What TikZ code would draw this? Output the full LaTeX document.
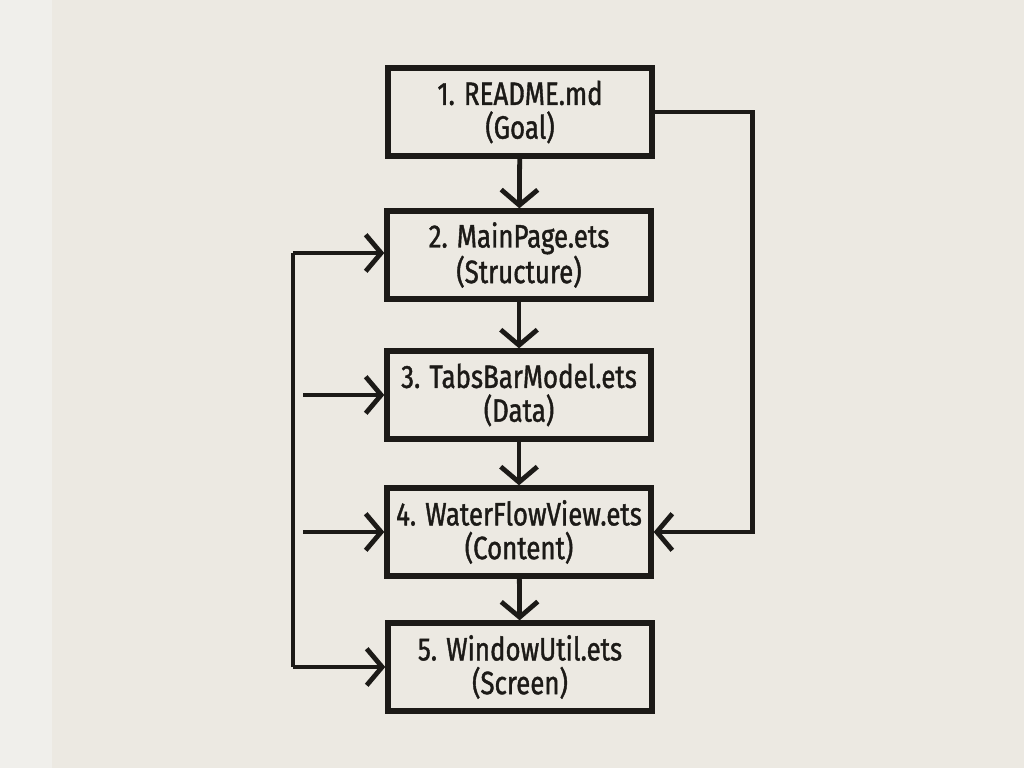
\documentclass[tikz,border=0pt]{standalone}
\usepackage{fontspec}
\setmainfont[FakeStretch=0.8, FakeBold=1.2]{Fira Sans}
\usepackage{xcolor}
\usetikzlibrary{positioning, arrows.meta}
\definecolor{paperBg}{HTML}{ECE9E2}
\definecolor{paperEdge}{HTML}{F0EFEB}
\definecolor{inkBlack}{HTML}{1C1A17}

\tikzset{
  filebox/.style={draw=inkBlack, line width=3.8pt, minimum width=6.6cm, minimum height=2.2cm,
    align=center, inner sep=1pt, font=\fontsize{23}{24}\selectfont, text=inkBlack},
  flowarrow/.style={draw=inkBlack, line width=3.4pt, -{Straight Barb[length=11pt, width=26pt, line width=3.4pt]}},
  loopline/.style={draw=inkBlack, line width=3.2pt}
}

\begin{document}
\begin{tikzpicture}[x=0.025cm, y=-0.025cm]
    % Paper background
    \fill[paperBg] (0, 0) rectangle (1024, 768);
    \fill[paperEdge] (0, 0) rectangle (52, 768);
    \useasboundingbox (0, 0) rectangle (1024, 768);
    % File boxes in reading order
    \node[filebox] (readme) at (520, 112) {1. README.md\\(Goal)};
    \node[filebox] (mainpage) at (519, 255) {2. MainPage.ets\\(Structure)};
    \node[filebox] (tabsbar) at (519, 395) {3. TabsBarModel.ets\\(Data)};
    \node[filebox] (waterflow) at (519, 532) {4. WaterFlowView.ets\\(Content)};
    \node[filebox] (windowutil) at (520, 667) {5. WindowUtil.ets\\(Screen)};
    % Downward chain
    \draw[flowarrow] (readme) -- (mainpage);
    \draw[flowarrow] (mainpage) -- (tabsbar);
    \draw[flowarrow] (tabsbar) -- (waterflow);
    \draw[flowarrow] (waterflow) -- (windowutil);
    % Left loop back into the boxes
    \coordinate (loopTop) at (293, 253);
    \coordinate (loopBot) at (293, 667);
    \coordinate (tabsIn) at (303, 395);
    \coordinate (flowIn) at (303, 532);
    \draw[loopline] (loopBot) -- (loopTop);
    \draw[flowarrow] (loopTop) -- (mainpage.west |- loopTop);
    \draw[flowarrow] (loopBot) -- (windowutil.west);
    \draw[flowarrow] (tabsIn) -- (tabsbar.west);
    \draw[flowarrow] (flowIn) -- (waterflow.west);
    % Right loop from the goal to the content view
    \draw[flowarrow] (readme.east) -- ++(98, 0) |- (waterflow.east);
  \end{tikzpicture}
\end{document}
